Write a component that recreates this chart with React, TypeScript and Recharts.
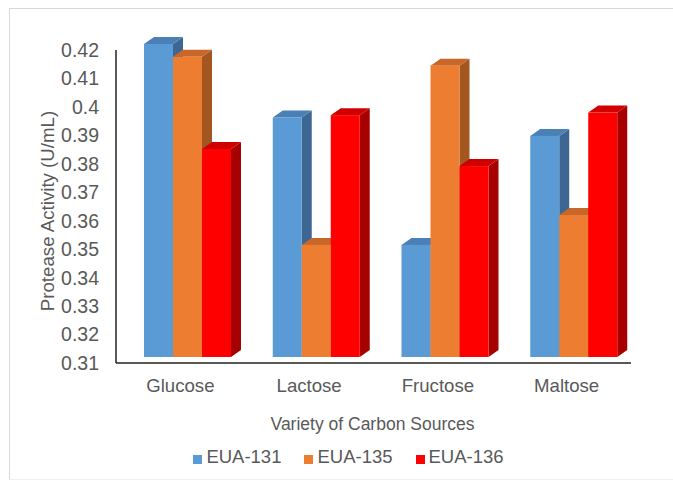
import React from 'react';
import { BarChart, Bar, XAxis, YAxis, Legend, Label } from 'recharts';

const categories = ['Glucose', 'Lactose', 'Fructose', 'Maltose'];
const eua131 = [0.42, 0.3942, 0.3494, 0.3877];
const eua135 = [0.4155, 0.3494, 0.4124, 0.3599];
const eua136 = [0.3831, 0.395, 0.3771, 0.3959];
const yTicks = [0.31, 0.32, 0.33, 0.34, 0.35, 0.36, 0.37, 0.38, 0.39, 0.4, 0.41, 0.42];

const seriesNames = ['EUA-131', 'EUA-135', 'EUA-136'];
const seriesKeys = ['s131', 's135', 's136'];
const frontColors = ['#5B9BD5', '#ED7D31', '#FF0000'];
const topColors = ['#4A80B6', '#C9672A', '#D00000'];
const sideColors = ['#3D6792', '#A3561F', '#A60000'];

const data = categories.map((c, i) => ({
  category: c,
  s131: eua131[i],
  s135: eua135[i],
  s136: eua136[i],
}));

const FONT = '"Liberation Sans", Arial, Helvetica, sans-serif';
const DX = 10;
const DY = 7;
const SHIFT_X = 7;
const SHIFT_Y = -6;

const make3D = (idx: number) => (props: any) => {
  const { x, y, width, height } = props;
  if (x == null || y == null || !width || height == null) return <g />;
  const fx = x + SHIFT_X;
  const fy = y + SHIFT_Y;
  const w = width;
  const h = height;
  const side = `${fx + w},${fy} ${fx + w + DX},${fy - DY} ${fx + w + DX},${fy + h - DY} ${fx + w},${fy + h}`;
  const top = `${fx},${fy} ${fx + DX},${fy - DY} ${fx + w + DX},${fy - DY} ${fx + w},${fy}`;
  return (
    <g>
      <polygon points={side} fill={sideColors[idx]} />
      <polygon points={top} fill={topColors[idx]} />
      <rect x={fx} y={fy} width={w} height={h} fill={frontColors[idx]} />
    </g>
  );
};

const LegendContent = () => (
  <div
    style={{
      display: 'flex',
      justifyContent: 'center',
      alignItems: 'baseline',
      fontFamily: FONT,
      fontSize: 18.5,
      color: '#595959',
      paddingLeft: 24,
    }}
  >
    {seriesNames.map((n, i) => (
      <div key={n} style={{ display: 'flex', alignItems: 'center', marginRight: i < 2 ? 23 : 0 }}>
        <span
          style={{
            display: 'inline-block',
            width: 9,
            height: 9,
            background: frontColors[i],
            marginRight: 4,
            marginTop: 4,
          }}
        />
        <span>{n}</span>
      </div>
    ))}
  </div>
);

export default function App() {
  return (
    <div style={{ position: 'absolute', left: 0, top: 0, width: 673, height: 481, background: '#fff', overflow: 'hidden' }}>
      <div
        style={{
          position: 'absolute',
          left: 9,
          top: 8,
          width: 700,
          height: 472,
          borderTop: '1px solid #D9D9D9',
          borderLeft: '1px solid #D9D9D9',
          borderBottom: '1px solid #EFEFEF',
          boxSizing: 'border-box',
        }}
      />
      <div style={{ position: 'absolute', left: 0, top: 0 }}>
        <BarChart
          width={673}
          height={481}
          data={data}
          margin={{ top: 50, right: 42, bottom: 58, left: 0 }}
          barCategoryGap={21}
          barGap={0}
        >
          <XAxis
            dataKey="category"
            height={60}
            tickLine={false}
            tickSize={0}
            tickMargin={16}
            axisLine={{ stroke: '#222', strokeWidth: 1.5 }}
            tick={{ fontSize: 18.6, fill: '#595959', fontFamily: FONT }}
            interval={0}
          >
            <Label
              content={(p: any) => {
                const vb = p.viewBox || {};
                return (
                  <text
                    x={vb.x + vb.width / 2 - 1}
                    y={vb.y + 67}
                    textAnchor="middle"
                    fontSize={17.5}
                    fill="#595959"
                    fontFamily={FONT}
                  >
                    Variety of Carbon Sources
                  </text>
                );
              }}
            />
          </XAxis>
          <YAxis
            width={116}
            domain={[0.31, 0.42]}
            ticks={yTicks}
            tickLine={false}
            tickSize={0}
            tickMargin={17}
            axisLine={{ stroke: '#222', strokeWidth: 1.5 }}
            tick={{ fontSize: 19.5, fill: '#595959', fontFamily: FONT }}
            tickFormatter={(v: number) => String(v)}
          >
            <Label
              content={(p: any) => {
                const vb = p.viewBox || {};
                const cy = vb.y + vb.height / 2 + 4.5;
                const cx = 53.5;
                return (
                  <text
                    x={cx}
                    y={cy}
                    transform={`rotate(-90, ${cx}, ${cy})`}
                    textAnchor="middle"
                    fontSize={18.7}
                    fill="#595959"
                    fontFamily={FONT}
                  >
                    Protease Activity (U/mL)
                  </text>
                );
              }}
            />
          </YAxis>
          <Legend
            layout="horizontal"
            verticalAlign="middle"
            align="center"
            content={<LegendContent />}
            wrapperStyle={{ top: 446, left: 0, width: 673 }}
          />
          {seriesKeys.map((k, i) => (
            <Bar
              key={k}
              dataKey={k}
              name={seriesNames[i]}
              fill={frontColors[i]}
              isAnimationActive={false}
              shape={make3D(i)}
            />
          ))}
        </BarChart>
      </div>
    </div>
  );
}
